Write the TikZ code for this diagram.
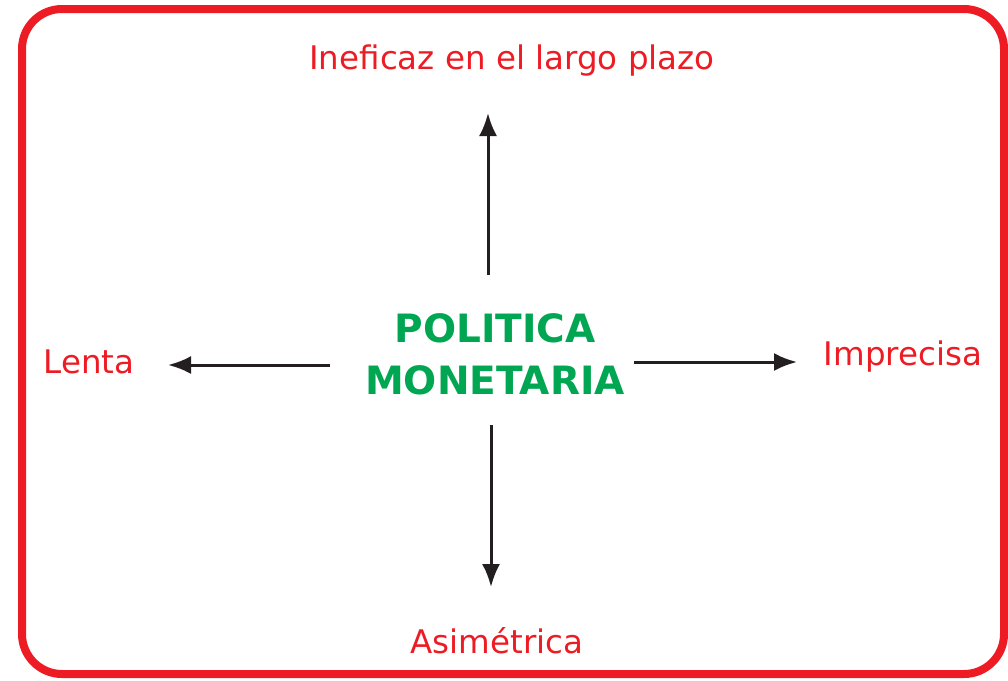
\documentclass[tikz,border=0pt]{standalone}
\usepackage{fontspec}
\setmainfont{DejaVu Sans}
\usepackage{xcolor}
\usetikzlibrary{arrows.meta,positioning}
\definecolor{framered}{HTML}{ED1C24}
\definecolor{labelred}{HTML}{ED1C24}
\definecolor{titlegreen}{HTML}{00A651}
\definecolor{arrowdark}{HTML}{231F20}

\begin{document}
\begin{tikzpicture}[
    x=1pt, y=-1pt,
    frame/.style={draw=framered, line width=8pt, rounded corners=40pt},
    effect/.style={text=labelred, inner sep=0pt, font=\fontsize{32.5}{39}\selectfont},
    title/.style={text=titlegreen, inner sep=0pt, align=center, font=\bfseries\fontsize{39}{52}\selectfont},
    arrow/.style={-{Latex[length=23pt, width=18pt]}, line width=3pt, draw=arrowdark}
]
\useasboundingbox (0,0) rectangle (1008,680);
\draw[frame] (22,9) rectangle (1004,674);

\node[title] (politica) at (495,354) {POLITICA\\MONETARIA};

\node[effect] (largo) at (512,61) {Ineficaz en el largo plazo};
\node[effect] (lenta) at (89,362) {Lenta};
\node[effect] (imprecisa) at (903,357) {Imprecisa};
\node[effect] (asimetrica) at (497,641) {Asimétrica};

% arrow ends
\coordinate (upfrom) at (488,275);
\coordinate (upto) at (488,113);
\coordinate (leftfrom) at (330,365);
\coordinate (leftto) at (168,365);
\coordinate (rightfrom) at (634,362);
\coordinate (rightto) at (797,362);
\coordinate (downfrom) at (491,425);
\coordinate (downto) at (491,587);

\foreach \dir in {up,left,right,down}
    \draw[arrow] (\dir from) -- (\dir to);
\end{tikzpicture}
\end{document}
